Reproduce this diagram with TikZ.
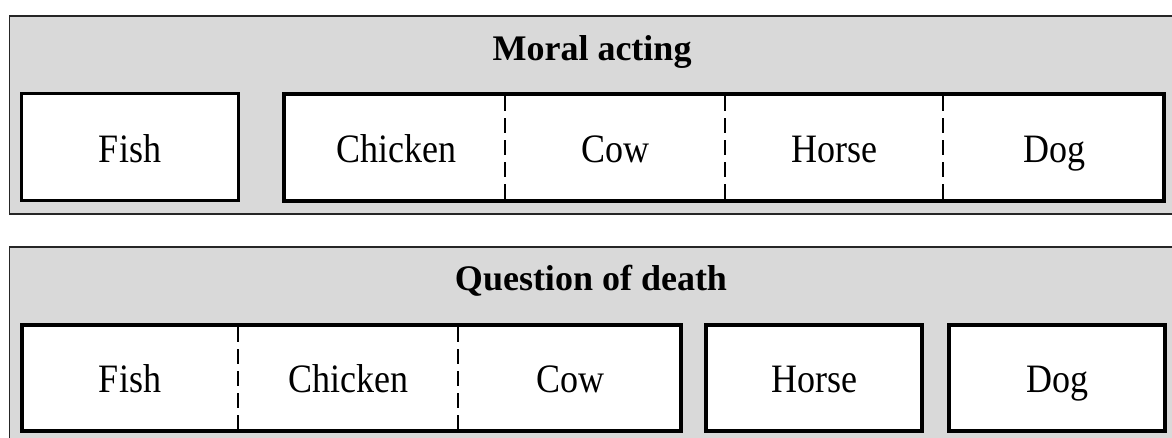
\documentclass[tikz,border=0pt]{standalone}
\usepackage{fontspec}
\setmainfont{Liberation Serif}
\definecolor{panelgray}{HTML}{D9D9D9}
\newcommand{\vstretch}[1]{\scalebox{1}[1.12]{#1}}
\begin{document}
\begin{tikzpicture}[x=1pt,y=-1pt,
  panel/.style={draw=black!85,line width=1.5pt,fill=panelgray,rectangle,inner sep=0pt},
  box/.style={draw=black,line width=3.6pt,fill=white,rectangle,inner sep=0pt,minimum height=107pt},
  label/.style={font=\fontsize{36}{40}\selectfont,inner sep=0pt,anchor=base},
  title/.style={font=\fontsize{36}{40}\selectfont\bfseries,inner sep=0pt,anchor=base},
  divider/.style={line width=1.6pt,dash pattern=on 15pt off 7pt}]
\useasboundingbox (0,0) rectangle (1172,437);
% panels
\node[panel,minimum width=1170pt,minimum height=198pt] (p1) at (594.5,115) {};
\node[panel,minimum width=1170pt,minimum height=200pt] (p2) at (594.5,347) {};
\node[title] (t1) at (592,60) {Moral acting};
\node[title] (t2) at (591,290) {Question of death};
% top row
\node[box,minimum width=217pt] (fish1) at (130,147) {};
\node[box,minimum width=880pt] (grp1) at (724,147.5) {};
\coordinate (d1t) at (505,96); \coordinate (d1b) at (505,199);
\coordinate (d2t) at (725,96); \coordinate (d2b) at (725,199);
\coordinate (d3t) at (943,96); \coordinate (d3b) at (943,199);
\draw[divider] (d1t) -- (d1b);
\draw[divider] (d2t) -- (d2b);
\draw[divider] (d3t) -- (d3b);
\node[label] (lf1) at (130,162) {\vstretch{Fish}};
\node[label] (lc1) at (396,162) {\vstretch{Chicken}};
\node[label] (lw1) at (615,162) {\vstretch{Cow}};
\node[label] (lh1) at (834,162) {\vstretch{Horse}};
\node[label] (ld1) at (1054,162) {\vstretch{Dog}};
% bottom row
\node[box,minimum width=659pt,minimum height=106pt] (grp2) at (351.5,378) {};
\node[box,minimum width=216pt,minimum height=106pt] (horse2) at (814,378) {};
\node[box,minimum width=216pt,minimum height=106pt] (dog2) at (1057,378) {};
\coordinate (e1t) at (238,327); \coordinate (e1b) at (238,429);
\coordinate (e2t) at (458,327); \coordinate (e2b) at (458,429);
\draw[divider] (e1t) -- (e1b);
\draw[divider] (e2t) -- (e2b);
\node[label] (lf2) at (130,392) {\vstretch{Fish}};
\node[label] (lc2) at (348,392) {\vstretch{Chicken}};
\node[label] (lw2) at (570,392) {\vstretch{Cow}};
\node[label] (lh2) at (814,392) {\vstretch{Horse}};
\node[label] (ld2) at (1057,392) {\vstretch{Dog}};
\end{tikzpicture}
\end{document}
